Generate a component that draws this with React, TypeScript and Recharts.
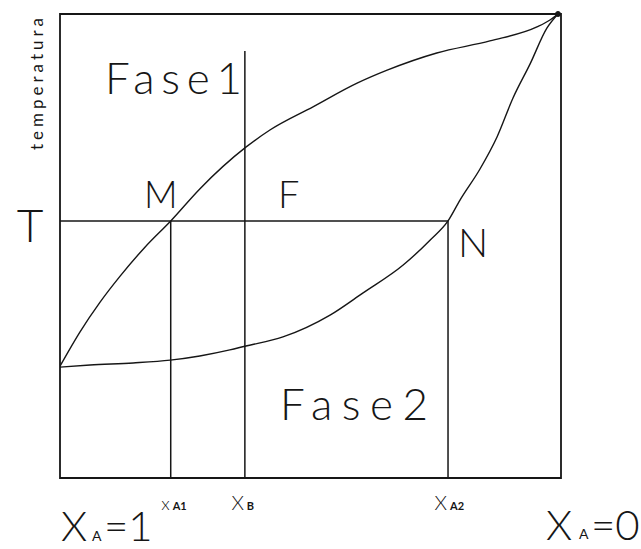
import React from 'react';
import {
  LineChart,
  Line,
  XAxis,
  YAxis,
  ReferenceLine,
  ReferenceArea,
  ReferenceDot,
  Customized,
} from 'recharts';

// Composition X_A (1 at the left, 0 at the right) and temperature (0..100 arbitrary units)
const upperCurve = [
  { x: 1.0, t: 24.1 },
  { x: 0.96, t: 31.5 },
  { x: 0.92, t: 37.9 },
  { x: 0.88, t: 43.5 },
  { x: 0.83, t: 49.8 },
  { x: 0.779, t: 55.4 },
  { x: 0.721, t: 62.3 },
  { x: 0.629, t: 71.3 },
  { x: 0.581, t: 75.0 },
  { x: 0.495, t: 80.0 },
  { x: 0.407, t: 85.1 },
  { x: 0.347, t: 87.9 },
  { x: 0.248, t: 91.6 },
  { x: 0.142, t: 94.2 },
  { x: 0.048, t: 97.2 },
  { x: 0.022, t: 98.7 },
  { x: 0.006, t: 100 },
];

const lowerCurve = [
  { x: 1.0, t: 23.9 },
  { x: 0.94, t: 24.35 },
  { x: 0.854, t: 24.8 },
  { x: 0.78, t: 25.4 },
  { x: 0.721, t: 26.3 },
  { x: 0.661, t: 27.6 },
  { x: 0.631, t: 28.4 },
  { x: 0.555, t: 30.4 },
  { x: 0.461, t: 35.1 },
  { x: 0.395, t: 39.9 },
  { x: 0.315, t: 45.9 },
  { x: 0.261, t: 51.3 },
  { x: 0.2255, t: 55.4 },
  { x: 0.2016, t: 59.9 },
  { x: 0.1617, t: 66.6 },
  { x: 0.1277, t: 73.5 },
  { x: 0.0958, t: 81.9 },
  { x: 0.0619, t: 89.2 },
  { x: 0.0279, t: 97.0 },
  { x: 0.006, t: 100 },
];

const xA1 = 0.779;
const xB = 0.631;
const xA2 = 0.2255;
const tLevel = 55.4;
const xBTop = 92;
const endPoint = { x: 0.006, t: 100 };

const xTickValues = [xA1, xB, xA2];
const xTickMain = ['x', 'X', 'X'];
const xTickSub = ['A1', 'B', 'A2'];
const yTickValues = [tLevel];
const yTickLabels = ['T'];
const pointLabels = ['M', 'F', 'N'];
const phaseLabels = ['Fase1', 'Fase2'];
const axisTitle = 'temperatura';
const endLabels = [
  { main: 'X', sub: 'A', rest: '=1' },
  { main: 'X', sub: 'A', rest: '=0' },
];

const INK = '#161616';
const FONT = 'Lato, "DejaVu Sans", sans-serif';
const W = 300;

const XTick = (props: any) => {
  const { x, y, payload, index } = props;
  const i = xTickValues.indexOf(payload.value);
  const k = i >= 0 ? i : index;
  const big = xTickMain[k] === 'X';
  return (
    <g>
      <text
        x={x - 1}
        y={y + 24}
        textAnchor="end"
        fontFamily={FONT}
        fontWeight={W}
        fontSize={big ? 20 : 18}
        fill={INK}
      >
        {xTickMain[k]}
      </text>
      <text
        x={x + 2}
        y={y + 24}
        textAnchor="start"
        fontFamily={FONT}
        fontWeight={700}
        fontSize={11}
        fill={INK}
      >
        {xTickSub[k]}
      </text>
    </g>
  );
};

const YTick = (props: any) => {
  const { y } = props;
  return (
    <text x={30} y={y + 21} textAnchor="middle" fontFamily={FONT} fontWeight={W} fontSize={46} fill={INK}>
      {yTickLabels[0]}
    </text>
  );
};

const Overlay = () => {
  const t = (x: number, y: number, s: string, size: number, len?: number, weight: number = W) => (
    <text
      x={x}
      y={y}
      fontFamily={FONT}
      fontWeight={weight}
      fontSize={size}
      fill={INK}
      textLength={len}
      lengthAdjust={len ? 'spacing' : undefined}
    >
      {s}
    </text>
  );
  return (
    <g>
      {t(105, 94, phaseLabels[0], 44, 137)}
      {t(280, 420, phaseLabels[1], 44, 148)}
      {t(144, 208, pointLabels[0], 37)}
      {t(278, 208, pointLabels[1], 38)}
      {t(458, 257, pointLabels[2], 40)}
      <text
        x={0}
        y={0}
        transform="translate(43,84) rotate(-90)"
        textAnchor="middle"
        fontFamily={FONT}
        fontWeight={400}
        fontSize={17}
        fill={INK}
        textLength={132}
        lengthAdjust="spacing"
      >
        {axisTitle}
      </text>
      {/* X_A = 1 */}
      {t(61, 541, endLabels[0].main, 42)}
      {t(92, 541, endLabels[0].sub, 14, undefined, 400)}
      {t(104, 541, endLabels[0].rest, 42)}
      {/* X_A = 0 */}
      {t(546, 540, endLabels[1].main, 42)}
      {t(579, 539, endLabels[1].sub, 14, undefined, 400)}
      {t(591, 540, endLabels[1].rest, 42)}
    </g>
  );
};

export default function App() {
  return (
    <div style={{ position: 'absolute', left: 0, top: 0, width: 641, height: 549, background: '#fff' }}>
      <LineChart width={641} height={549} margin={{ top: 14, right: 80, bottom: 41, left: 0 }}>
        <XAxis
          type="number"
          dataKey="x"
          domain={[0, 1]}
          reversed
          allowDataOverflow
          ticks={xTickValues}
          interval={0}
          axisLine={false}
          tickLine={false}
          tick={<XTick />}
          height={30}
        />
        <YAxis
          type="number"
          dataKey="t"
          domain={[0, 100]}
          allowDataOverflow
          ticks={yTickValues}
          axisLine={false}
          tickLine={false}
          tick={<YTick />}
          width={60}
        />
        <ReferenceArea x1={0} x2={1} y1={0} y2={100} fill="none" stroke={INK} strokeWidth={1.8} fillOpacity={0} />
        <ReferenceLine segment={[{ x: 1, y: tLevel }, { x: xA2, y: tLevel }]} stroke={INK} strokeWidth={1.5} />
        <ReferenceLine segment={[{ x: xA1, y: 0 }, { x: xA1, y: tLevel }]} stroke={INK} strokeWidth={1.5} />
        <ReferenceLine segment={[{ x: xB, y: 0 }, { x: xB, y: xBTop }]} stroke={INK} strokeWidth={1.5} />
        <ReferenceLine segment={[{ x: xA2, y: 0 }, { x: xA2, y: tLevel }]} stroke={INK} strokeWidth={1.5} />
        <Line
          data={upperCurve}
          dataKey="t"
          type="monotone"
          stroke={INK}
          strokeWidth={1.4}
          dot={false}
          isAnimationActive={false}
        />
        <Line
          data={lowerCurve}
          dataKey="t"
          type="monotone"
          stroke={INK}
          strokeWidth={1.4}
          dot={false}
          isAnimationActive={false}
        />
        <ReferenceDot x={endPoint.x} y={endPoint.t} r={2.5} fill={INK} stroke={INK} />
        <Customized component={Overlay} />
      </LineChart>
    </div>
  );
}
